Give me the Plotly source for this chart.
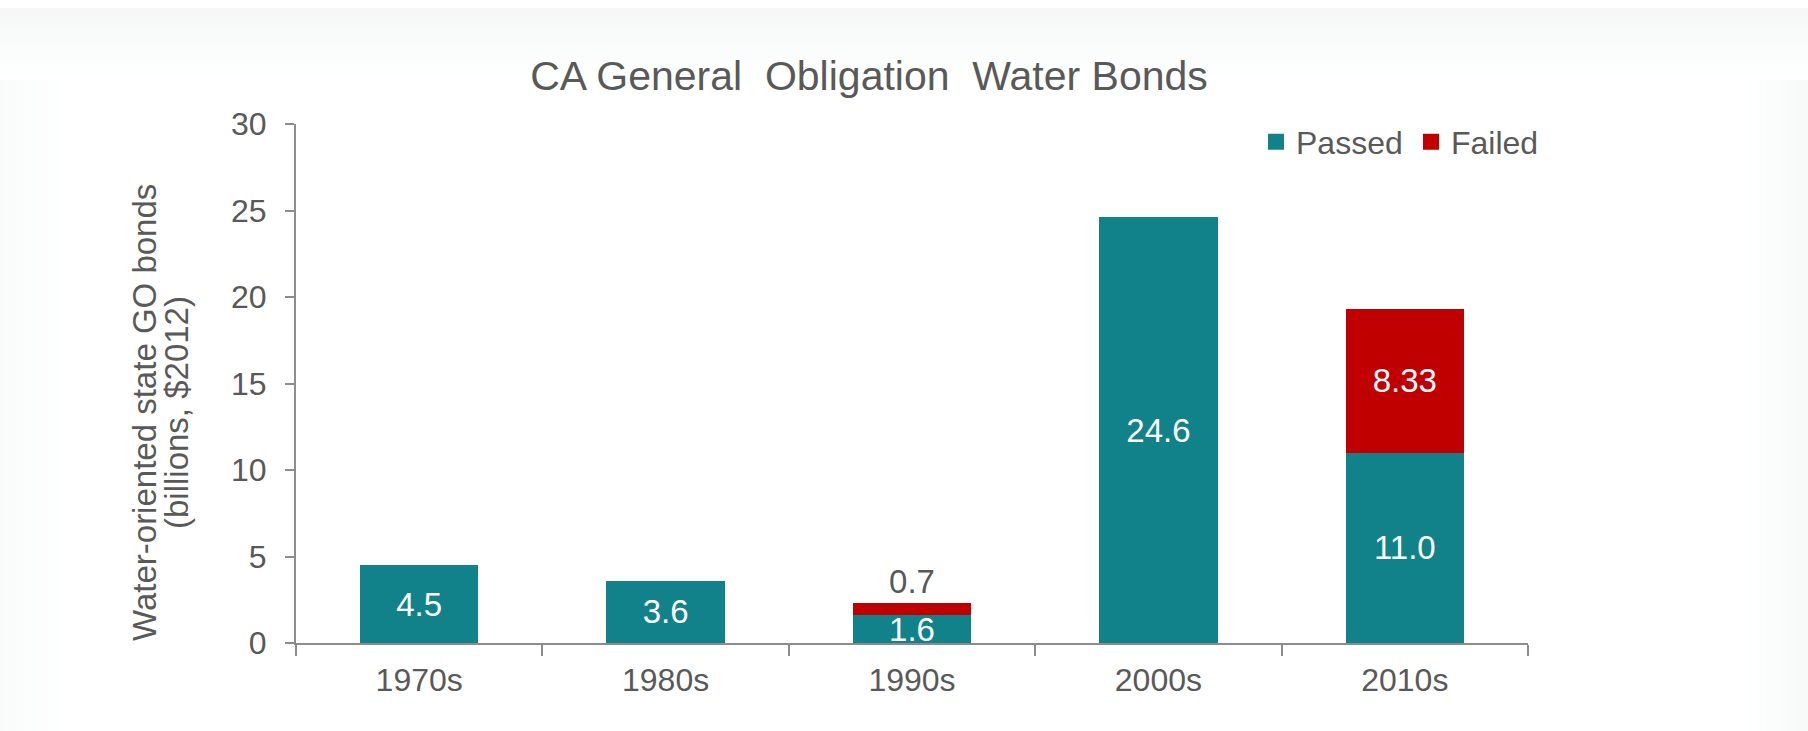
import plotly.graph_objects as go

# ---- data ----
decades = ["1970s", "1980s", "1990s", "2000s", "2010s"]
passed = [4.5, 3.6, 1.6, 24.6, 11.0]
failed = [None, None, 0.7, None, 8.33]
passed_labels = ["4.5", "3.6", "1.6", "24.6", "11.0"]
failed_labels = ["", "", "0.7", "", "8.33"]
y_ticks = [0, 5, 10, 15, 20, 25, 30]

TEAL = "#11818A"
RED = "#C00000"
GRAY_TXT = "#595959"
AXIS = "#8C8C8C"
FONT = "Liberation Sans, Arial, sans-serif"

W, H = 1808, 731
L, R, T, B = 296, 280, 124, 88
PW = W - L - R
PH = H - T - B


def px_x(x):
    return (x - L) / PW


def px_y(y):
    return (H - B - y) / PH


fig = go.Figure()
fig.add_trace(go.Bar(
    x=decades, y=passed, name="Passed", marker=dict(color=TEAL, line=dict(width=0)),
    text=passed_labels, textposition="inside", insidetextanchor="middle",
    constraintext="none", textangle=0,
    insidetextfont=dict(color="white", size=33, family=FONT),
    hoverinfo="skip", showlegend=False,
))
fig.add_trace(go.Bar(
    x=decades, y=failed, name="Failed", marker=dict(color=RED, line=dict(width=0)),
    text=failed_labels,
    textposition=["inside", "inside", "outside", "inside", "inside"],
    insidetextanchor="middle", constraintext="none", textangle=0,
    insidetextfont=dict(color="white", size=33, family=FONT),
    outsidetextfont=dict(color=GRAY_TXT, size=33, family=FONT),
    cliponaxis=False, hoverinfo="skip", showlegend=False,
))
# legend entries (square swatches)
fig.add_trace(go.Scatter(x=[None], y=[None], mode="markers", name="Passed",
                         marker=dict(symbol="square", size=16, color=TEAL)))
fig.add_trace(go.Scatter(x=[None], y=[None], mode="markers", name="Failed",
                         marker=dict(symbol="square", size=16, color=RED)))

# subtle slide-frame background (gray gradient border)
shapes = []
steps = 20
for i in range(steps):
    a = 0.065 * (1 - i / steps)
    y0 = 8 + i * 3.6
    shapes.append(dict(type="rect", xref="paper", yref="paper",
                       x0=px_x(0), x1=px_x(W), y0=px_y(y0), y1=px_y(y0 + 3.6),
                       fillcolor=f"rgba(120,130,130,{a:.3f})", line=dict(width=0), layer="below"))
    x0 = i * 3.4
    shapes.append(dict(type="rect", xref="paper", yref="paper",
                       x0=px_x(x0), x1=px_x(x0 + 3.4), y0=px_y(H), y1=px_y(80),
                       fillcolor=f"rgba(120,130,130,{a*0.6:.3f})", line=dict(width=0), layer="below"))
    x1 = W - i * 3.4
    shapes.append(dict(type="rect", xref="paper", yref="paper",
                       x0=px_x(x1 - 3.4), x1=px_x(x1), y0=px_y(H), y1=px_y(80),
                       fillcolor=f"rgba(120,130,130,{a*0.8:.3f})", line=dict(width=0), layer="below"))

fig.update_layout(
    width=W, height=H,
    margin=dict(l=L, r=R, t=T, b=B, autoexpand=False),
    paper_bgcolor="white", plot_bgcolor="rgba(0,0,0,0)",
    barmode="stack", bargap=0.52,
    font=dict(family=FONT, color=GRAY_TXT, size=30),
    title=dict(text="CA General\u00a0 Obligation\u00a0 Water Bonds",
               x=869 / W, xanchor="center", y=1 - 76 / H, yanchor="middle",
               font=dict(size=41, color=GRAY_TXT, family=FONT)),
    showlegend=True,
    legend=dict(orientation="h", x=px_x(1256), xanchor="left", y=px_y(142), yanchor="middle",
                font=dict(size=32, color=GRAY_TXT, family=FONT),
                entrywidth=110, entrywidthmode="pixels",
                bgcolor="rgba(0,0,0,0)", traceorder="normal", itemclick=False),
    xaxis=dict(type="category", showline=True, linecolor=AXIS, linewidth=2,
               ticks="outside", tickson="boundaries", ticklen=11, tickcolor=AXIS, tickwidth=2,
               tickfont=dict(size=32, color=GRAY_TXT), ticklabelstandoff=8,
               showgrid=False, zeroline=False, fixedrange=True),
    yaxis=dict(range=[0, 30], tickvals=y_ticks, showline=True, linecolor=AXIS, linewidth=2,
               ticks="outside", ticklen=9, tickcolor=AXIS, tickwidth=2,
               tickfont=dict(size=32, color=GRAY_TXT), ticklabelstandoff=12,
               showgrid=False, zeroline=False, fixedrange=True),
    shapes=shapes,
    annotations=[
        dict(text="Water-oriented state GO bonds", xref="paper", yref="paper",
             x=px_x(144), y=px_y(413), xanchor="center", yanchor="middle", textangle=-90,
             showarrow=False, font=dict(size=33, color=GRAY_TXT, family=FONT)),
        dict(text="(billions, $2012)", xref="paper", yref="paper",
             x=px_x(176), y=px_y(413), xanchor="center", yanchor="middle", textangle=-90,
             showarrow=False, font=dict(size=33, color=GRAY_TXT, family=FONT)),
    ],
)

fig.write_html("out.html")
